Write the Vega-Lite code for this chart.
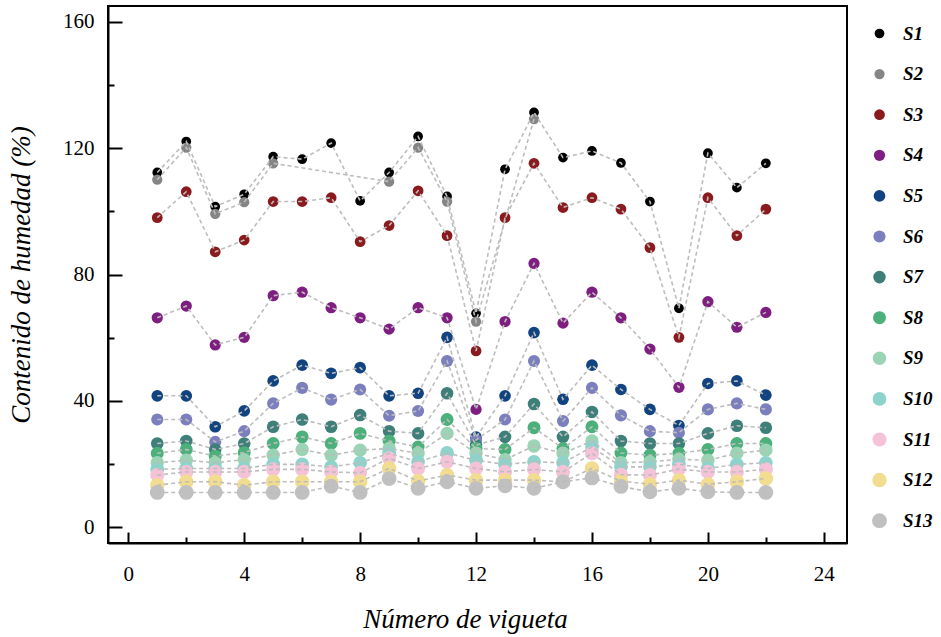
{
"$schema": "https://vega.github.io/schema/vega-lite/v6.json",
"width": 739, "height": 537,
"autosize": {"type": "none"},
"padding": {"left": 108, "top": 6, "right": 94, "bottom": 94},
"background": "white",
"config": {"view": {"stroke": "#000", "strokeWidth": 2}, "font": "'Liberation Serif', 'Times New Roman', Times, 'DejaVu Serif', serif"},
"data": {"values": [
{"s":"S1","x":1,"y":112.3},{"s":"S1","x":2,"y":122.1},{"s":"S1","x":3,"y":101.5},{"s":"S1","x":4,"y":105.4},{"s":"S1","x":5,"y":117.3},{"s":"S1","x":6,"y":116.5},{"s":"S1","x":7,"y":121.6},{"s":"S1","x":8,"y":103.3},{"s":"S1","x":9,"y":112.3},{"s":"S1","x":10,"y":123.7},{"s":"S1","x":11,"y":104.7},{"s":"S1","x":12,"y":67.7},{"s":"S1","x":13,"y":113.3},{"s":"S1","x":14,"y":131.3},{"s":"S1","x":15,"y":117},{"s":"S1","x":16,"y":119.1},{"s":"S1","x":17,"y":115.3},{"s":"S1","x":18,"y":103.1},{"s":"S1","x":19,"y":69.3},{"s":"S1","x":20,"y":118.4},{"s":"S1","x":21,"y":107.5},{"s":"S1","x":22,"y":115.2},
{"s":"S2","x":1,"y":110},{"s":"S2","x":2,"y":120.2},{"s":"S2","x":3,"y":99.2},{"s":"S2","x":4,"y":102.9},{"s":"S2","x":5,"y":115.2},{"s":"S2","x":9,"y":109.4},{"s":"S2","x":10,"y":120.2},{"s":"S2","x":11,"y":103.1},{"s":"S2","x":12,"y":65.1},{"s":"S2","x":14,"y":129.2},
{"s":"S3","x":1,"y":98},{"s":"S3","x":2,"y":106.2},{"s":"S3","x":3,"y":87.2},{"s":"S3","x":4,"y":90.9},{"s":"S3","x":5,"y":103.1},{"s":"S3","x":6,"y":103.1},{"s":"S3","x":7,"y":104.3},{"s":"S3","x":8,"y":90.4},{"s":"S3","x":9,"y":95.5},{"s":"S3","x":10,"y":106.5},{"s":"S3","x":11,"y":92.3},{"s":"S3","x":12,"y":55.8},{"s":"S3","x":13,"y":98},{"s":"S3","x":14,"y":115.2},{"s":"S3","x":15,"y":101.2},{"s":"S3","x":16,"y":104.3},{"s":"S3","x":17,"y":100.7},{"s":"S3","x":18,"y":88.5},{"s":"S3","x":19,"y":60.1},{"s":"S3","x":20,"y":104.3},{"s":"S3","x":21,"y":92.3},{"s":"S3","x":22,"y":100.7},
{"s":"S4","x":1,"y":66.3},{"s":"S4","x":2,"y":70},{"s":"S4","x":3,"y":57.7},{"s":"S4","x":4,"y":60.1},{"s":"S4","x":5,"y":73.3},{"s":"S4","x":6,"y":74.4},{"s":"S4","x":7,"y":69.5},{"s":"S4","x":8,"y":66.3},{"s":"S4","x":9,"y":62.7},{"s":"S4","x":10,"y":69.5},{"s":"S4","x":11,"y":66.3},{"s":"S4","x":12,"y":37.3},{"s":"S4","x":13,"y":65.1},{"s":"S4","x":14,"y":83.5},{"s":"S4","x":15,"y":64.6},{"s":"S4","x":16,"y":74.4},{"s":"S4","x":17,"y":66.3},{"s":"S4","x":18,"y":56.4},{"s":"S4","x":19,"y":44.3},{"s":"S4","x":20,"y":71.4},{"s":"S4","x":21,"y":63.3},{"s":"S4","x":22,"y":68},
{"s":"S5","x":1,"y":41.6},{"s":"S5","x":2,"y":41.6},{"s":"S5","x":3,"y":31.8},{"s":"S5","x":4,"y":36.8},{"s":"S5","x":5,"y":46.3},{"s":"S5","x":6,"y":51.3},{"s":"S5","x":7,"y":48.7},{"s":"S5","x":8,"y":50.5},{"s":"S5","x":9,"y":41.6},{"s":"S5","x":10,"y":42.4},{"s":"S5","x":11,"y":60.1},{"s":"S5","x":12,"y":28.5},{"s":"S5","x":13,"y":41.6},{"s":"S5","x":14,"y":61.6},{"s":"S5","x":15,"y":40.5},{"s":"S5","x":16,"y":51.3},{"s":"S5","x":17,"y":43.6},{"s":"S5","x":18,"y":37.3},{"s":"S5","x":19,"y":32.2},{"s":"S5","x":20,"y":45.5},{"s":"S5","x":21,"y":46.3},{"s":"S5","x":22,"y":41.8},
{"s":"S6","x":1,"y":34.1},{"s":"S6","x":2,"y":34.1},{"s":"S6","x":3,"y":27},{"s":"S6","x":4,"y":30.4},{"s":"S6","x":5,"y":39.2},{"s":"S6","x":6,"y":44.1},{"s":"S6","x":7,"y":40.4},{"s":"S6","x":8,"y":43.6},{"s":"S6","x":9,"y":35.3},{"s":"S6","x":10,"y":36.8},{"s":"S6","x":11,"y":52.6},{"s":"S6","x":12,"y":27.6},{"s":"S6","x":13,"y":34.1},{"s":"S6","x":14,"y":52.6},{"s":"S6","x":15,"y":33.6},{"s":"S6","x":16,"y":44.1},{"s":"S6","x":17,"y":35.4},{"s":"S6","x":18,"y":30.4},{"s":"S6","x":19,"y":29.9},{"s":"S6","x":20,"y":37.3},{"s":"S6","x":21,"y":39.2},{"s":"S6","x":22,"y":37.3},
{"s":"S7","x":1,"y":26.5},{"s":"S7","x":2,"y":27.3},{"s":"S7","x":3,"y":24.6},{"s":"S7","x":4,"y":26.5},{"s":"S7","x":5,"y":31.8},{"s":"S7","x":6,"y":34.1},{"s":"S7","x":7,"y":31.8},{"s":"S7","x":8,"y":35.5},{"s":"S7","x":9,"y":30.4},{"s":"S7","x":10,"y":29.7},{"s":"S7","x":11,"y":42.4},{"s":"S7","x":12,"y":26},{"s":"S7","x":13,"y":28.6},{"s":"S7","x":14,"y":39},{"s":"S7","x":15,"y":28.6},{"s":"S7","x":16,"y":36.5},{"s":"S7","x":17,"y":27.3},{"s":"S7","x":18,"y":26.5},{"s":"S7","x":19,"y":26.5},{"s":"S7","x":20,"y":29.7},{"s":"S7","x":21,"y":32.1},{"s":"S7","x":22,"y":31.5},
{"s":"S8","x":1,"y":23.4},{"s":"S8","x":2,"y":24.6},{"s":"S8","x":3,"y":22.5},{"s":"S8","x":4,"y":23.6},{"s":"S8","x":5,"y":26.5},{"s":"S8","x":6,"y":28.6},{"s":"S8","x":7,"y":26.5},{"s":"S8","x":8,"y":29.7},{"s":"S8","x":9,"y":27.3},{"s":"S8","x":10,"y":25.4},{"s":"S8","x":11,"y":34.1},{"s":"S8","x":12,"y":24.9},{"s":"S8","x":13,"y":24.6},{"s":"S8","x":14,"y":31.5},{"s":"S8","x":15,"y":24.9},{"s":"S8","x":16,"y":31.8},{"s":"S8","x":17,"y":23.5},{"s":"S8","x":18,"y":22.8},{"s":"S8","x":19,"y":23.4},{"s":"S8","x":20,"y":24.6},{"s":"S8","x":21,"y":26.5},{"s":"S8","x":22,"y":26.5},
{"s":"S9","x":1,"y":20.4},{"s":"S9","x":2,"y":21.2},{"s":"S9","x":3,"y":20.4},{"s":"S9","x":4,"y":21.4},{"s":"S9","x":5,"y":22.8},{"s":"S9","x":6,"y":24.6},{"s":"S9","x":7,"y":22.8},{"s":"S9","x":8,"y":24.4},{"s":"S9","x":9,"y":24.9},{"s":"S9","x":10,"y":23.4},{"s":"S9","x":11,"y":29.7},{"s":"S9","x":12,"y":23.4},{"s":"S9","x":13,"y":21.4},{"s":"S9","x":14,"y":25.7},{"s":"S9","x":15,"y":23.4},{"s":"S9","x":16,"y":27.3},{"s":"S9","x":17,"y":20.4},{"s":"S9","x":18,"y":20.7},{"s":"S9","x":19,"y":21.5},{"s":"S9","x":20,"y":21.2},{"s":"S9","x":21,"y":23.4},{"s":"S9","x":22,"y":24.4},
{"s":"S10","x":1,"y":18.3},{"s":"S10","x":2,"y":18.6},{"s":"S10","x":3,"y":18.6},{"s":"S10","x":4,"y":18.6},{"s":"S10","x":5,"y":19.9},{"s":"S10","x":6,"y":19.9},{"s":"S10","x":7,"y":19.1},{"s":"S10","x":8,"y":20.4},{"s":"S10","x":9,"y":23.4},{"s":"S10","x":10,"y":20.7},{"s":"S10","x":11,"y":23.5},{"s":"S10","x":12,"y":21.2},{"s":"S10","x":13,"y":19.9},{"s":"S10","x":14,"y":20.7},{"s":"S10","x":15,"y":20.4},{"s":"S10","x":16,"y":25.4},{"s":"S10","x":17,"y":19.1},{"s":"S10","x":18,"y":19.1},{"s":"S10","x":19,"y":19.9},{"s":"S10","x":20,"y":18.6},{"s":"S10","x":21,"y":19.9},{"s":"S10","x":22,"y":20.4},
{"s":"S11","x":1,"y":16.5},{"s":"S11","x":2,"y":17.5},{"s":"S11","x":3,"y":17.5},{"s":"S11","x":4,"y":17.5},{"s":"S11","x":5,"y":18.3},{"s":"S11","x":6,"y":18.3},{"s":"S11","x":7,"y":17.5},{"s":"S11","x":8,"y":17.2},{"s":"S11","x":9,"y":21.8},{"s":"S11","x":10,"y":18.6},{"s":"S11","x":11,"y":20.7},{"s":"S11","x":12,"y":18.6},{"s":"S11","x":13,"y":17.5},{"s":"S11","x":14,"y":18.3},{"s":"S11","x":15,"y":17.5},{"s":"S11","x":16,"y":23.4},{"s":"S11","x":17,"y":16.6},{"s":"S11","x":18,"y":16.5},{"s":"S11","x":19,"y":18.4},{"s":"S11","x":20,"y":17.5},{"s":"S11","x":21,"y":17.5},{"s":"S11","x":22,"y":18.3},
{"s":"S12","x":1,"y":13.3},{"s":"S12","x":2,"y":14.4},{"s":"S12","x":3,"y":14.4},{"s":"S12","x":4,"y":13.3},{"s":"S12","x":5,"y":14.4},{"s":"S12","x":6,"y":14.4},{"s":"S12","x":7,"y":14.4},{"s":"S12","x":8,"y":14.4},{"s":"S12","x":9,"y":18.6},{"s":"S12","x":10,"y":14.6},{"s":"S12","x":11,"y":16.5},{"s":"S12","x":12,"y":14.9},{"s":"S12","x":13,"y":14.9},{"s":"S12","x":14,"y":14.9},{"s":"S12","x":15,"y":14.4},{"s":"S12","x":16,"y":18.6},{"s":"S12","x":17,"y":14.6},{"s":"S12","x":18,"y":13.6},{"s":"S12","x":19,"y":14.9},{"s":"S12","x":20,"y":13.6},{"s":"S12","x":21,"y":14.4},{"s":"S12","x":22,"y":15.4},
{"s":"S13","x":1,"y":11},{"s":"S13","x":2,"y":11},{"s":"S13","x":3,"y":11},{"s":"S13","x":4,"y":11},{"s":"S13","x":5,"y":11},{"s":"S13","x":6,"y":11},{"s":"S13","x":7,"y":13},{"s":"S13","x":8,"y":11},{"s":"S13","x":9,"y":15.4},{"s":"S13","x":10,"y":12.3},{"s":"S13","x":11,"y":14.4},{"s":"S13","x":12,"y":12.3},{"s":"S13","x":13,"y":13.1},{"s":"S13","x":14,"y":12.3},{"s":"S13","x":15,"y":14.4},{"s":"S13","x":16,"y":15.6},{"s":"S13","x":17,"y":12.9},{"s":"S13","x":18,"y":11.2},{"s":"S13","x":19,"y":12.3},{"s":"S13","x":20,"y":11.2},{"s":"S13","x":21,"y":11},{"s":"S13","x":22,"y":11}
]},
"layer": [
{"mark": {"type": "circle", "opacity": 1},
 "encoding": {
  "x": {"field": "x", "type": "quantitative",
    "scale": {"domain": [-0.7, 24.8], "nice": false, "zero": false},
    "axis": {"values": [0,1,2,3,4,5,6,7,8,9,10,11,12,13,14,15,16,17,18,19,20,21,22,23,24],
      "labelExpr": "datum.value % 4 === 0 ? datum.label : ''",
      "tickSize": {"condition": {"test": "datum.value % 4 === 0", "value": -11}, "value": -6},
      "tickWidth": 2, "tickColor": "#000", "domainColor": "#000", "domainWidth": 2, "grid": false,
      "labelFontSize": 21, "labelColor": "#000", "labelPadding": 31,
      "title": "Número de vigueta", "titleFontSize": 27,
      "titleFontStyle": "italic", "titleFontWeight": "normal", "titleColor": "#000", "titlePadding": 22, "titleX": 357}},
  "y": {"field": "y", "type": "quantitative",
    "scale": {"domain": [-5, 165], "nice": false, "zero": false},
    "axis": {"values": [0,10,20,30,40,50,60,70,80,90,100,110,120,130,140,150,160],
      "labelExpr": "datum.value % 40 === 0 ? datum.label : ''",
      "tickSize": {"condition": {"test": "datum.value % 40 === 0", "value": -14}, "value": -6},
      "tickWidth": 2, "tickColor": "#000", "domainColor": "#000", "domainWidth": 2, "grid": false,
      "labelFontSize": 21, "labelColor": "#000", "labelPadding": 28,
      "title": "Contenido de humedad (%)", "titleFontSize": 27,
      "titleFontStyle": "italic", "titleFontWeight": "normal", "titleColor": "#000", "titlePadding": 27}},
  "color": {"field": "s", "type": "nominal",
    "scale": {"domain": ["S1","S2","S3","S4","S5","S6","S7","S8","S9","S10","S11","S12","S13"],
      "range": ["#000000","#858585","#8a1a1d","#7e1e80","#10437f","#7b7fbe","#3e7f7a","#4bb07a","#9bd3b5","#8dd3cb","#f5c2d8","#f2dc90","#c0c0c0"]},
    "legend": {"title": null, "orient": "none", "legendX": 762, "legendY": 18,
      "labelFontSize": 19, "labelFontStyle": "italic", "labelFontWeight": "bold",
      "labelColor": "#000", "rowPadding": 20.6, "labelOffset": 14, "symbolType": "circle", "symbolStrokeWidth": 0,
      "encode": {"symbols": {"update": {"size": {"signal": "datum.value === 'S1' ? 55 : 125"}}}}}},
  "size": {"field": "s", "type": "nominal",
    "scale": {"domain": ["S1","S2","S3","S4","S5","S6","S7","S8","S9","S10","S11","S12","S13"],
      "range": [95,220,220,220,220,220,220,220,220,220,220,220,220]},
    "legend": {"title": null, "orient": "none", "legendX": 762, "legendY": 18,
      "labelFontSize": 19, "labelFontStyle": "italic", "labelFontWeight": "bold",
      "labelColor": "#000", "rowPadding": 20.6, "labelOffset": 14, "symbolType": "circle", "symbolStrokeWidth": 0,
      "encode": {"symbols": {"update": {"size": {"signal": "datum.value === 'S1' ? 55 : 125"}}}}}}
 }},
{"mark": {"type": "line", "color": "#bdbdbd", "strokeDash": [4, 3], "strokeWidth": 1.6},
 "encoding": {
  "x": {"field": "x", "type": "quantitative"},
  "y": {"field": "y", "type": "quantitative"},
  "detail": {"field": "s", "type": "nominal"},
  "order": {"field": "x", "type": "quantitative"}
 }}
]
}
